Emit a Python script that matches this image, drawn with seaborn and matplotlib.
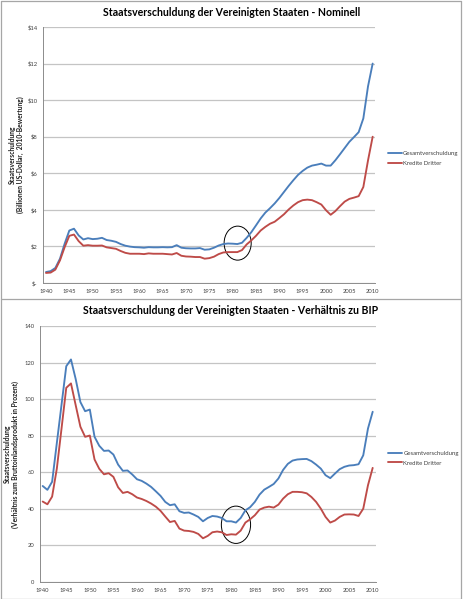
import numpy as np
import pandas as pd
import matplotlib
matplotlib.use("Agg")
import matplotlib.pyplot as plt
import seaborn as sns
from matplotlib.patches import Ellipse
from matplotlib.lines import Line2D
from matplotlib.ticker import FuncFormatter, MultipleLocator

years = list(range(1940, 2011))

# Nominal debt (trillions of 2010 US dollars)
nominal_total = [
    0.60, 0.65, 0.82, 1.33, 2.15, 2.87, 2.97, 2.60, 2.38, 2.45,
    2.40, 2.42, 2.47, 2.35, 2.31, 2.25, 2.13, 2.04, 1.99, 1.96,
    1.95, 1.93, 1.96, 1.95, 1.95, 1.96, 1.95, 1.96, 2.07, 1.93,
    1.90, 1.89, 1.89, 1.91, 1.82, 1.84, 1.93, 2.05, 2.13, 2.16,
    2.15, 2.13, 2.20, 2.47, 2.78, 3.15, 3.53, 3.85, 4.09, 4.35,
    4.65, 4.98, 5.31, 5.62, 5.91, 6.13, 6.31, 6.42, 6.47, 6.53,
    6.42, 6.42, 6.71, 7.04, 7.38, 7.72, 7.98, 8.25, 9.00, 10.75,
    12.00,
]
nominal_public = [
    0.55, 0.57, 0.73, 1.24, 1.96, 2.58, 2.65, 2.29, 2.04, 2.07,
    2.04, 2.04, 2.05, 1.95, 1.91, 1.87, 1.75, 1.65, 1.60, 1.60,
    1.60, 1.58, 1.62, 1.60, 1.60, 1.60, 1.58, 1.56, 1.64, 1.49,
    1.45, 1.44, 1.42, 1.42, 1.33, 1.36, 1.44, 1.58, 1.67, 1.69,
    1.69, 1.69, 1.80, 2.11, 2.33, 2.58, 2.87, 3.07, 3.24, 3.35,
    3.55, 3.76, 4.02, 4.24, 4.42, 4.53, 4.56, 4.53, 4.42, 4.29,
    3.98, 3.73, 3.93, 4.20, 4.45, 4.60, 4.67, 4.75, 5.25, 6.70,
    8.00,
]

# Debt as percent of GDP
gdp_total = [
    52.5, 50.4, 54.8, 76.0, 97.0, 118.0, 121.7, 111.0, 98.4, 93.4,
    94.3, 79.4, 74.5, 71.7, 71.9, 69.7, 64.2, 60.8, 61.0, 58.8,
    56.2, 55.3, 53.8, 52.0, 49.6, 47.1, 43.8, 42.0, 42.5, 38.7,
    37.8, 38.0, 36.9, 35.6, 33.2, 35.0, 36.1, 35.8, 35.0, 33.2,
    33.2, 32.5, 35.0, 39.2, 40.9, 43.8, 47.8, 50.5, 52.0, 53.6,
    56.6, 61.3, 64.6, 66.4, 67.0, 67.2, 67.3, 66.1, 64.2, 62.0,
    58.4, 56.8, 59.3, 61.7, 63.0, 63.7, 63.9, 64.4, 69.3, 83.9,
    93.1,
]
gdp_public = [
    44.0, 42.5, 46.7, 62.0, 84.0, 106.2, 108.6, 96.7, 84.9, 79.4,
    80.1, 67.0, 61.9, 58.9, 59.5, 57.5, 51.8, 48.7, 49.3, 48.0,
    46.2, 45.4, 44.3, 42.9, 41.2, 38.9, 35.8, 32.8, 33.4, 29.2,
    28.1, 27.9, 27.4, 26.3, 23.9, 25.2, 27.2, 27.6, 27.2, 25.7,
    26.1, 25.9, 28.1, 32.5, 34.3, 36.5, 39.6, 40.7, 41.2, 40.7,
    42.3, 45.6, 48.0, 49.3, 49.3, 49.1, 48.5, 46.5, 43.8, 40.1,
    35.6, 32.5, 33.6, 35.6, 36.9, 37.0, 36.9, 36.1, 40.1, 52.9,
    62.4,
]

series_names = ["Gesamtverschuldung", "Kredite Dritter"]
title_top = "Staatsverschuldung der Vereinigten Staaten - Nominell"
title_bottom = "Staatsverschuldung der Vereinigten Staaten - Verhältnis zu BIP"
ylabel_top = "Staatsverschuldung\n(Billionen US-Dollar,  2010-Bewertung)"
ylabel_bottom = "Staatsverschuldung\n(Verhältnis zum Bruttoinlandsprodukt in Prozent)"

BLUE = "#4a7ebb"
RED = "#be4b48"
GRID = "#c4c4c4"
AXIS = "#8c8c8c"
TXT = "#404040"

sns.set_theme(style="white")
plt.rcParams["font.family"] = ["Lato", "DejaVu Sans"]


def long_df(total, public):
    return pd.DataFrame({
        "Jahr": years * 2,
        "Wert": list(total) + list(public),
        "Reihe": [series_names[0]] * len(years) + [series_names[1]] * len(years),
    })


fig = plt.figure(figsize=(4.64, 5.99), dpi=100)
ax1 = fig.add_axes([43 / 464, 1 - 283 / 599, 332 / 464, 256 / 599])
ax2 = fig.add_axes([40 / 464, 1 - 582 / 599, 335.7 / 464, 256 / 599])


def style_axes(ax, ymax, ystep, fmt, xlim):
    ax.set_xlim(*xlim)
    ax.set_ylim(0, ymax)
    ax.yaxis.set_major_locator(MultipleLocator(ystep))
    ax.yaxis.set_major_formatter(FuncFormatter(fmt))
    ax.xaxis.set_major_locator(MultipleLocator(5))
    ax.xaxis.set_minor_locator(MultipleLocator(1))
    ax.yaxis.grid(True, color=GRID, linewidth=0.9)
    ax.xaxis.grid(False)
    ax.set_axisbelow(True)
    for s in ["top", "right"]:
        ax.spines[s].set_visible(False)
    for s in ["left", "bottom"]:
        ax.spines[s].set_color(AXIS)
        ax.spines[s].set_linewidth(0.7)
    ax.tick_params(axis="x", which="both", direction="out", length=2.0, width=0.5,
                   color=AXIS, labelsize=4.2, labelcolor=TXT, pad=2)
    ax.tick_params(axis="y", which="major", direction="out", length=2.0, width=0.5,
                   color=AXIS, labelsize=4.2, labelcolor=TXT, pad=2)
    ax.set_xlabel("")


def draw(ax, total, public, ymax, ystep, fmt, xlim, ylabel, label_fs, label_x, leg_xy, ell):
    df = long_df(total, public)
    sns.lineplot(data=df, x="Jahr", y="Wert", hue="Reihe", hue_order=series_names,
                 palette=[BLUE, RED], linewidth=1.35, ax=ax, legend=False)
    style_axes(ax, ymax, ystep, fmt, xlim)
    ax.set_ylabel(ylabel, fontsize=label_fs, fontweight="bold", color="#202020",
                  linespacing=1.15)
    ax.yaxis.set_label_coords(label_x, 0.5)
    handles = [Line2D([0], [0], color=BLUE, lw=1.35), Line2D([0], [0], color=RED, lw=1.35)]
    ax.legend(handles, series_names, loc="center left", bbox_to_anchor=leg_xy,
              frameon=False, fontsize=4.3, handlelength=2.4, handletextpad=0.15,
              labelspacing=0.75, borderpad=0, borderaxespad=0, labelcolor=TXT)
    e = Ellipse(ell[0], ell[1], ell[2], fill=False, edgecolor="black", linewidth=0.7)
    ax.add_patch(e)


draw(ax1, nominal_total, nominal_public, 14, 2,
     lambda v, p: "$-" if v == 0 else f"${v:.0f}",
     (1939.36, 2010.5), ylabel_top, 4.9, -0.058, (1.039, 0.486),
     ((1981.07, 2.18), 5.8, 1.86))
draw(ax2, gdp_total, gdp_public, 140, 20,
     lambda v, p: f"{v:.0f}",
     (1939.43, 2010.64), ylabel_bottom, 4.9, -0.064, (1.037, 0.484),
     ((1981.0, 31.3), 6.2, 20.4))

fig.text(231.5 / 464, 1 - 13 / 599, title_top, ha="center", va="center",
         fontsize=7.6, fontweight="bold", color="black")
fig.text(231 / 464, 1 - 311 / 599, title_bottom, ha="center", va="center",
         fontsize=7.6, fontweight="bold", color="black")

# panel borders
BORDER = "#a6a6a6"
for (x0, y0, x1, y1) in [
    (0.5, 0.5, 461, 0.5), (0.5, 598.5, 461, 598.5), (0.5, 299, 461, 299),
    (0.5, 0.5, 0.5, 598.5), (461, 0.5, 461, 598.5),
]:
    fig.add_artist(Line2D([x0 / 464, x1 / 464], [1 - y0 / 599, 1 - y1 / 599],
                          transform=fig.transFigure, color=BORDER, linewidth=0.9))

fig.savefig("out.png", dpi=100)
